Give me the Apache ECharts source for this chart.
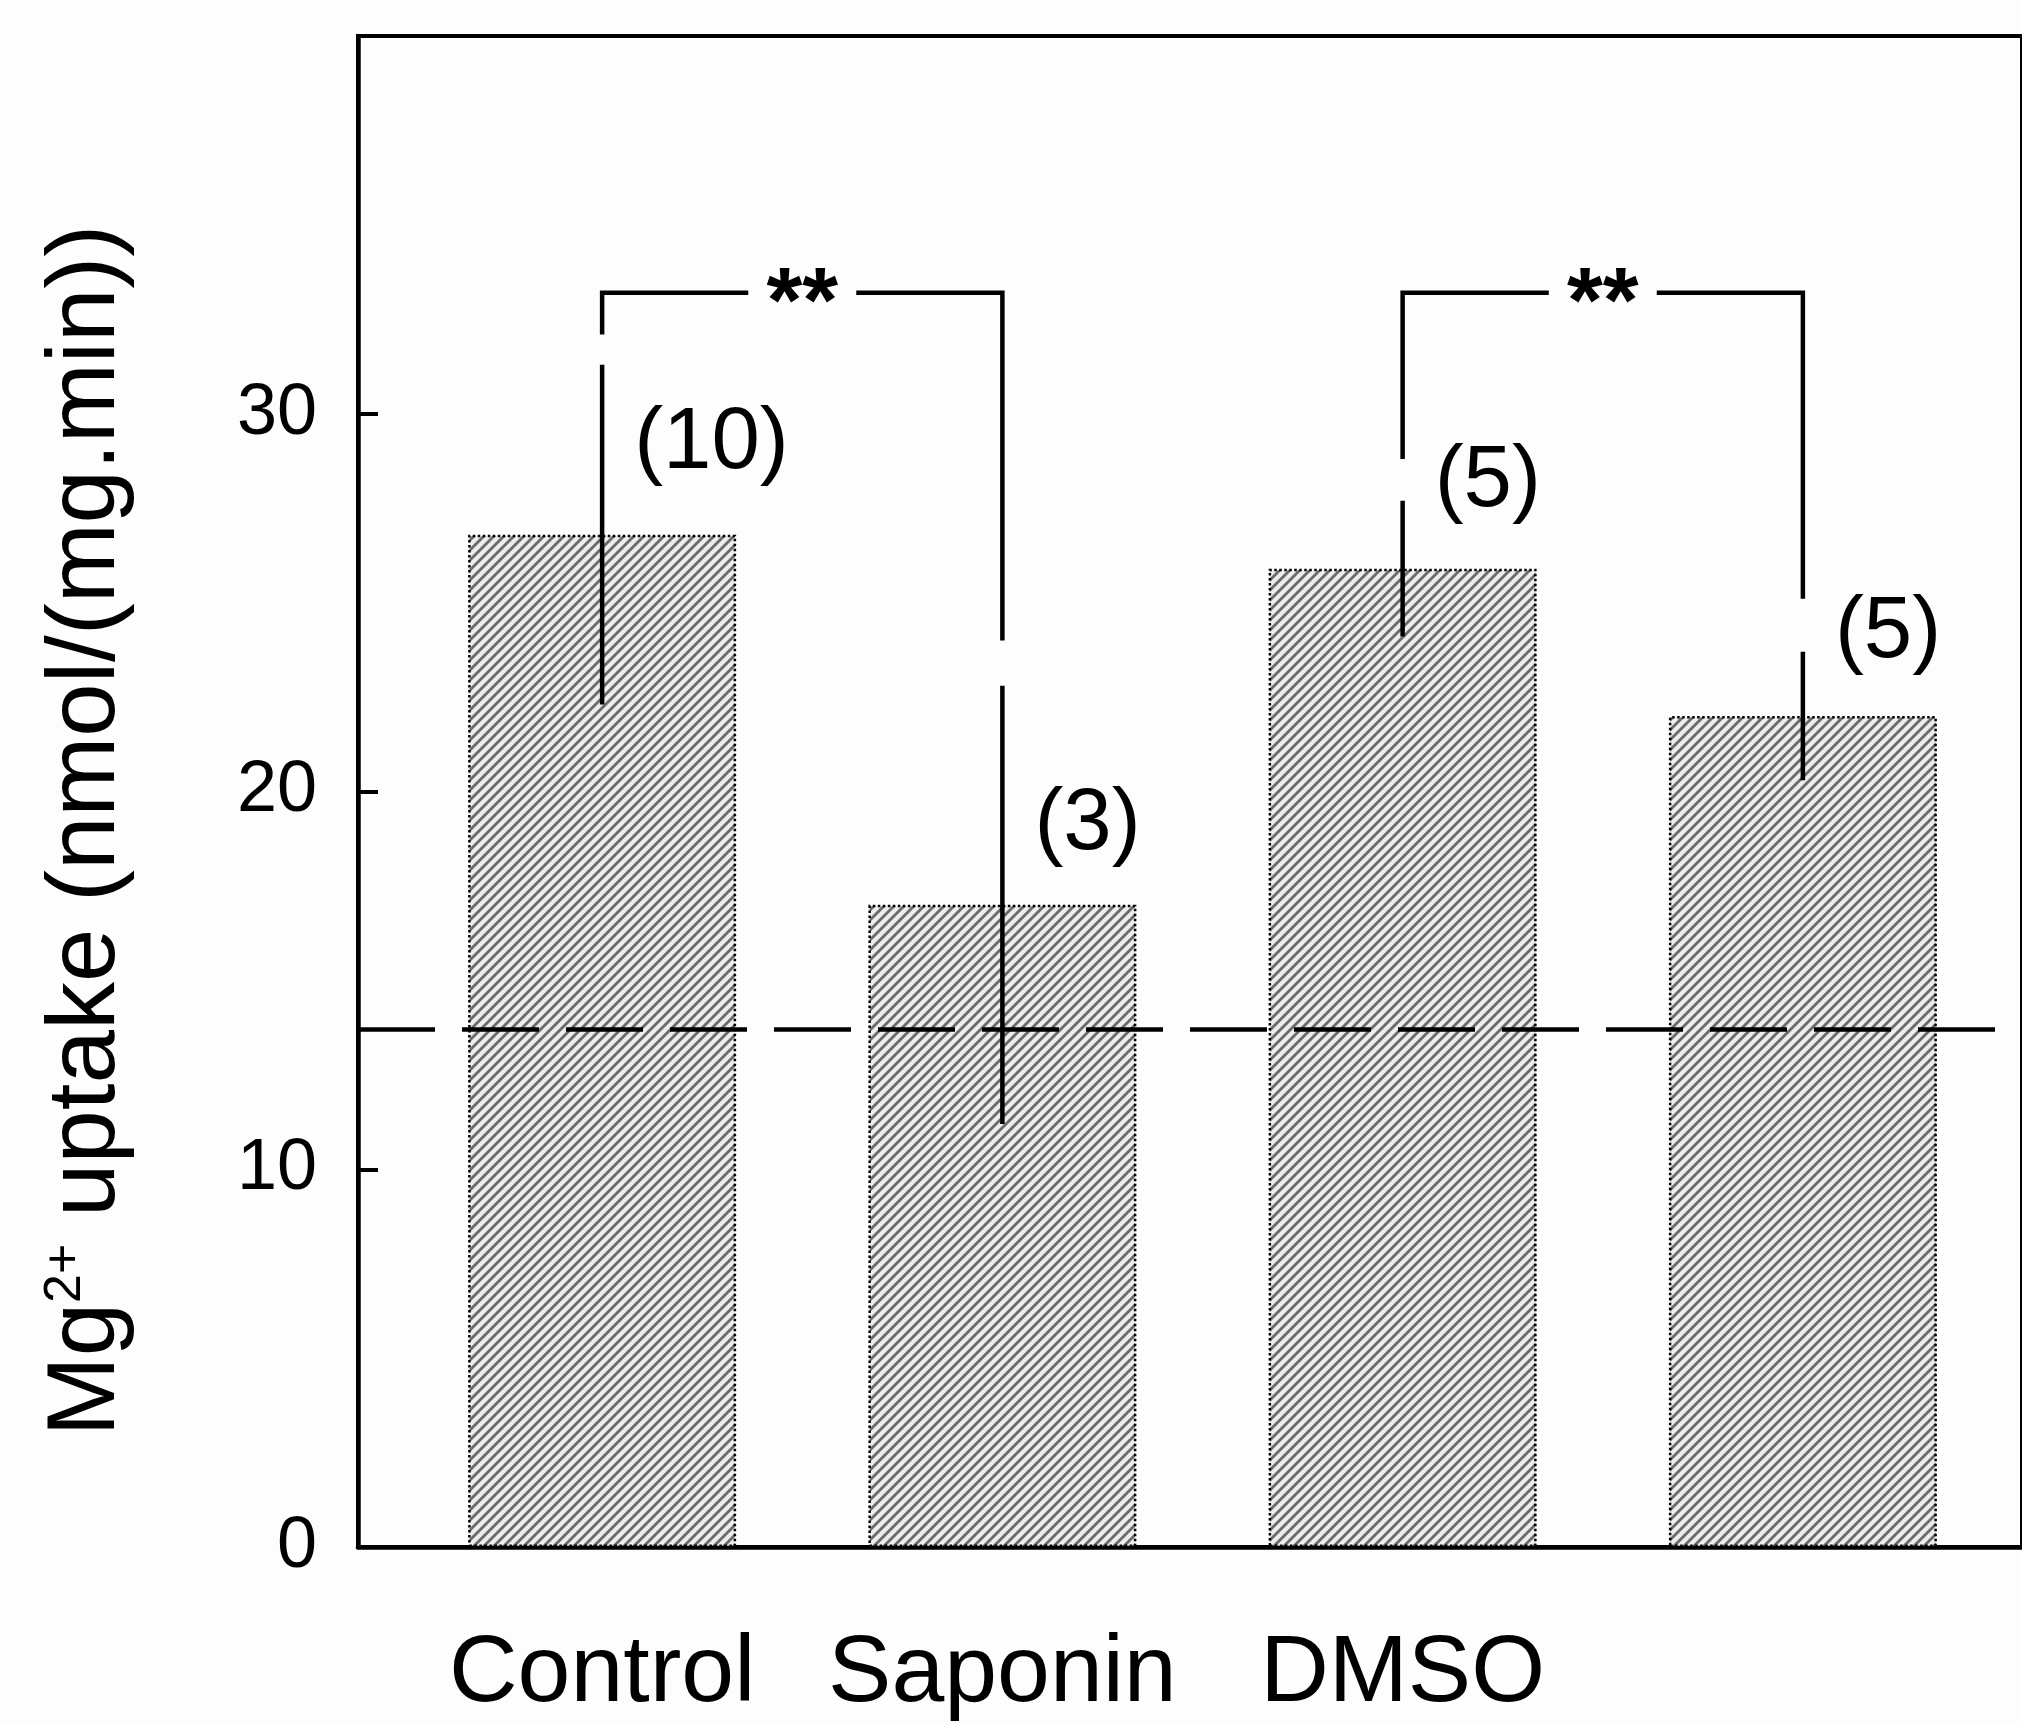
<!DOCTYPE html>
<html>
<head>
<meta charset="utf-8">
<title>Mg2+ uptake</title>
<script src="https://cdn.jsdelivr.net/npm/echarts@6/dist/echarts.min.js"></script>
<style>
  html, body { margin: 0; padding: 0; background: #fff; }
  #chart { width: 2022px; height: 1725px; }
</style>
</head>
<body>
<div id="chart"></div>
<script>
// values
const categories = ['Control', 'Saponin', 'DMSO', '']
const means = [26.8, 17.0, 25.9, 22.0]
const errors = [4.5, 5.8, 1.8, 1.7]
const nLabels = ['(10)', '(3)', '(5)', '(5)']
const nLabelY = [29.2, 19.1, 28.2, 24.2]
const yTicks = [0, 10, 20, 30, 40]
const baseline = 13.7

// significance brackets: from bar, to bar, top, left end, right end
const bracketFrom = [0, 2]
const bracketTo = [1, 3]
const bracketTop = [33.2, 33.2]
const bracketLeftEnd = [32.1, 28.8]
const bracketRightEnd = [24.0, 25.1]
const bracketMarks = ['**', '**']

const font = 'Liberation Sans'

// diagonal hatch used to fill the bars
function hatch() {
  const c = document.createElement('canvas')
  c.width = 10
  c.height = 10
  const ctx = c.getContext('2d')
  ctx.fillStyle = '#ededed'
  ctx.fillRect(0, 0, 10, 10)
  ctx.strokeStyle = '#6b6b6b'
  ctx.lineWidth = 2.8
  for (const k of [0, 10, 20]) {
    ctx.beginPath()
    ctx.moveTo(k - 12, 12)
    ctx.lineTo(k + 2, -2)
    ctx.stroke()
  }
  return c
}

const chart = echarts.init(document.getElementById('chart'), null, { renderer: 'canvas' })

chart.setOption({
  backgroundColor: '#fdfdfd',
  animation: false,
  grid: [
    { left: 358, right: -4, top: 36, bottom: 178, show: true, borderColor: '#000', borderWidth: 4, backgroundColor: 'transparent' },
    { left: 402, width: 1601, top: 36, bottom: 178 }
  ],
  xAxis: [
    {
      type: 'value', gridIndex: 0, min: 0, max: 1,
      axisLine: { show: true, lineStyle: { color: '#000', width: 4.5 } },
      axisTick: { show: false }, axisLabel: { show: false }, splitLine: { show: false }
    },
    {
      type: 'category', gridIndex: 1, data: categories,
      axisLine: { show: false }, axisTick: { show: false },
      axisLabel: { interval: 0, fontFamily: font, fontSize: 95, lineHeight: 95, color: '#000', margin: 80 }
    }
  ],
  yAxis: [
    {
      type: 'value', gridIndex: 0,
      min: yTicks[0], max: yTicks[yTicks.length - 1], interval: yTicks[1] - yTicks[0],
      axisLine: { show: true, lineStyle: { color: '#000', width: 4.5 } },
      axisTick: { show: true, inside: true, length: 20, lineStyle: { color: '#000', width: 4 } },
      axisLabel: { fontFamily: font, fontSize: 72, color: '#000', margin: 41, showMaxLabel: false },
      splitLine: { show: false },
      name: '{m|Mg}{sup|2+}{m| uptake (nmol/(mg.min))}',
      nameLocation: 'middle', nameRotate: 90, nameGap: 222,
      nameTextStyle: {
        fontFamily: font, fontSize: 96, color: '#000', padding: [0, 78, 0, 0],
        rich: {
          m: { fontFamily: font, fontSize: 96, lineHeight: 96, color: '#000' },
          sup: { fontFamily: font, fontSize: 52, lineHeight: 52, color: '#000', verticalAlign: 'top' }
        }
      }
    },
    {
      type: 'value', gridIndex: 1,
      min: yTicks[0], max: yTicks[yTicks.length - 1], show: false
    }
  ],
  series: [
    {
      type: 'bar', xAxisIndex: 1, yAxisIndex: 1, z: 1,
      data: means, barWidth: 268, silent: true,
      itemStyle: {
        color: { image: hatch(), repeat: 'repeat' },
        borderColor: '#000', borderWidth: 2.5, borderType: 'dotted'
      }
    },
    {
      type: 'line', xAxisIndex: 0, yAxisIndex: 0, z: 3, silent: true,
      data: [[0, baseline], [1, baseline]], symbol: 'none',
      lineStyle: { color: '#000', width: 4.5, type: [77, 27] }
    },
    {
      // error bars
      type: 'custom', xAxisIndex: 1, yAxisIndex: 1, z: 4, silent: true,
      data: means.map((m, i) => [i, m - errors[i], m + errors[i]]),
      encode: { x: 0, y: [1, 2] },
      renderItem(params, api) {
        const lo = api.coord([api.value(0), api.value(1)])
        const hi = api.coord([api.value(0), api.value(2)])
        return {
          type: 'line',
          shape: { x1: lo[0], y1: lo[1], x2: hi[0], y2: hi[1] },
          style: { stroke: '#000', lineWidth: 4.5 }
        }
      }
    },
    {
      // n per group
      type: 'custom', xAxisIndex: 1, yAxisIndex: 1, z: 5, silent: true,
      data: nLabelY.map((y, i) => [i, y]),
      encode: { x: 0, y: 1 },
      renderItem(params, api) {
        const p = api.coord([api.value(0), api.value(1)])
        return {
          type: 'text',
          style: {
            text: nLabels[params.dataIndex], x: p[0] + 32, y: p[1],
            fill: '#000', fontFamily: font, fontSize: 87,
            align: 'left', verticalAlign: 'middle'
          }
        }
      }
    },
    {
      // significance brackets
      type: 'custom', xAxisIndex: 1, yAxisIndex: 1, z: 5, silent: true,
      data: bracketFrom.map((f, i) => [f, bracketTo[i], bracketTop[i], bracketLeftEnd[i], bracketRightEnd[i]]),
      encode: { x: [0, 1], y: [2, 3, 4] },
      renderItem(params, api) {
        const a = api.coord([api.value(0), api.value(3)])
        const t1 = api.coord([api.value(0), api.value(2)])
        const t2 = api.coord([api.value(1), api.value(2)])
        const b = api.coord([api.value(1), api.value(4)])
        const mid = (t1[0] + t2[0]) / 2
        const gap = 54
        const line = { stroke: '#000', lineWidth: 4.5, lineJoin: 'miter', fill: null }
        return {
          type: 'group',
          children: [
            { type: 'polyline', shape: { points: [a, t1, [mid - gap, t1[1]]] }, style: line },
            { type: 'polyline', shape: { points: [[mid + gap, t2[1]], t2, b] }, style: line },
            {
              type: 'text',
              style: {
                text: bracketMarks[params.dataIndex], x: mid, y: t1[1] + 14,
                fill: '#000', fontFamily: font, fontSize: 92, fontWeight: 'bold',
                align: 'center', verticalAlign: 'middle'
              }
            }
          ]
        }
      }
    }
  ]
})
</script>
</body>
</html>
